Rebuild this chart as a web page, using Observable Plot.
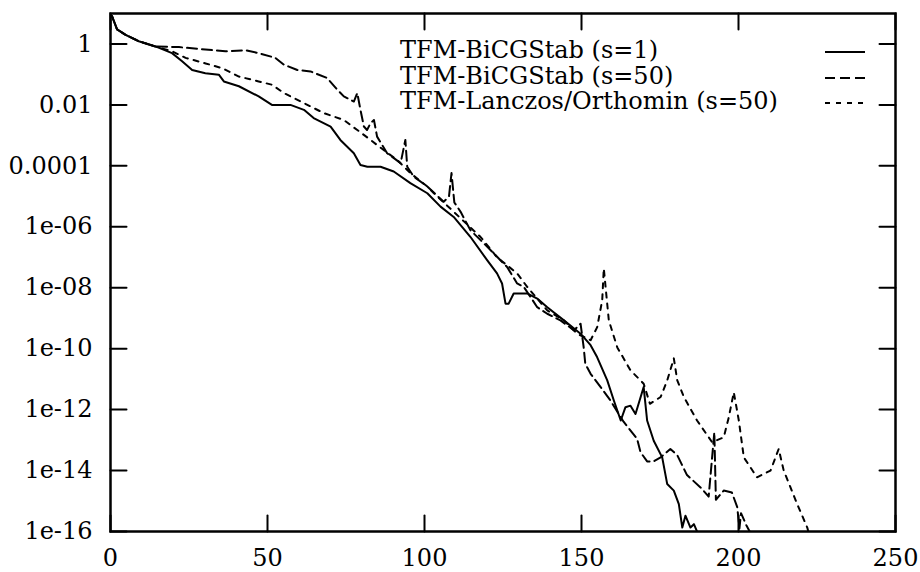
<!DOCTYPE html>
<html>
<head>
<meta charset="utf-8">
<script src="https://cdn.jsdelivr.net/npm/d3@7"></script>
<script src="https://cdn.jsdelivr.net/npm/@observablehq/plot@0.6"></script>
<style>
  html, body { margin: 0; padding: 0; background: #fff; }
  #wrap { position: relative; width: 920px; height: 572px; font-family: "DejaVu Serif", serif; }
  #legend { position: absolute; left: 400px; top: 38px; font-size: 24px; line-height: 25.5px; color: #000; }
  #legend .row { position: relative; height: 25.5px; white-space: nowrap; }
  #legend .row svg { position: absolute; left: 425px; top: 0; }
</style>
</head>
<body>
<div id="wrap"><div id="legend"></div></div>
<script>
// ---- data ----
const seriesNames = ["TFM-BiCGStab (s=1)", "TFM-BiCGStab (s=50)", "TFM-Lanczos/Orthomin (s=50)"];

const s1X = [0, 0.5, 2.1, 4.8, 9.0, 14.3, 19.6, 22.8, 26.0, 30.2, 34.5, 36.1, 40.9, 47.2, 51.4, 57.3, 61.6, 64.7, 70.1, 73.2, 77.5, 79.6, 81.8, 86.0, 90.2, 95.5, 100.9, 105.1, 109.3, 114.6, 120.0, 123.1, 124.7, 125.8, 126.8, 128.4, 132.7, 135.9, 139.1, 144.4, 149.7, 152.9, 155.0, 158.2, 160.3, 162.5, 164.0, 165.6, 167.2, 169.8, 170.9, 173.0, 175.7, 177.3, 179.4, 181.0, 182.1, 183.1, 184.7, 185.8, 186.8, 187.5];
const s1Y = [9, 8.1, 3.0, 2.0, 1.23, 0.83, 0.50, 0.27, 0.14, 0.11, 0.098, 0.059, 0.041, 0.019, 0.010, 0.010, 6.9e-3, 3.7e-3, 1.95e-3, 7.1e-4, 2.6e-4, 1.07e-4, 9.3e-5, 9.3e-5, 6.5e-5, 2.7e-5, 1.26e-5, 4.6e-6, 2.1e-6, 4.7e-7, 7.9e-8, 2.95e-8, 1.38e-8, 3.0e-9, 3.0e-9, 6.5e-9, 6.5e-9, 4.4e-9, 2.3e-9, 8.5e-10, 3.1e-10, 1.3e-10, 5.2e-11, 9.1e-12, 2.0e-12, 4.4e-13, 1.2e-12, 1.35e-12, 7.2e-13, 5.5e-12, 4.4e-13, 9.5e-14, 2.7e-14, 3.6e-15, 2.2e-15, 7.9e-16, 1.35e-16, 3.3e-16, 1.35e-16, 1.74e-16, 1.0e-16, 4e-17];

const s2X = [0, 0.5, 2.1, 4.8, 9.0, 14.3, 21.8, 28.1, 36.6, 43.0, 47.2, 52.5, 55.2, 59.5, 63.7, 69.0, 72.2, 74.3, 77.5, 78.6, 79.6, 80.7, 81.7, 82.8, 83.9, 84.9, 88.1, 92.4, 93.9, 94.5, 96.6, 100.9, 106.1, 107.8, 108.6, 109.5, 111.5, 114.6, 120.0, 126.3, 129.5, 131.6, 135.9, 139.1, 143.3, 147.6, 149.7, 150.7, 151.2, 152.9, 156.1, 159.2, 163.4, 167.7, 168.8, 170.9, 173.0, 175.2, 178.3, 180.5, 183.6, 187.9, 190.5, 192.3, 192.8, 195.3, 197.9, 199.6, 200.3, 200.8, 202.5, 203.8, 204.5];
const s2Y = [9, 8.1, 3.0, 2.0, 1.23, 0.83, 0.79, 0.69, 0.575, 0.62, 0.50, 0.35, 0.21, 0.14, 0.126, 0.076, 0.032, 0.019, 0.0129, 0.0245, 6.9e-3, 1.95e-3, 1.5e-3, 2.5e-3, 3.2e-3, 9.1e-4, 2.6e-4, 1.23e-4, 7.1e-4, 9.3e-5, 4.4e-5, 2.1e-5, 6.6e-6, 1.0e-5, 5.8e-5, 6.3e-6, 3.1e-6, 7.8e-7, 2.2e-7, 4.8e-8, 1.38e-8, 1.07e-8, 2.3e-9, 1.4e-9, 8.5e-10, 4.0e-10, 6.6e-10, 1.1e-10, 3.2e-11, 1.5e-11, 5.5e-12, 2.0e-12, 4.0e-13, 1.1e-13, 4.0e-14, 2.0e-14, 2.0e-14, 2.7e-14, 5.1e-14, 3.2e-14, 7.1e-15, 2.8e-15, 1.4e-15, 1.8e-13, 1.1e-15, 2.2e-15, 1.9e-15, 6.3e-16, 1.26e-16, 4.0e-16, 1.6e-16, 9e-17, 3e-17];

const s3X = [0, 0.5, 2.1, 4.8, 9.0, 14.3, 19.6, 23.9, 30.3, 35.6, 40.9, 47.2, 51.4, 55.2, 61.6, 67.9, 74.3, 78.6, 82.8, 87.0, 91.3, 95.5, 100.9, 103.0, 117.8, 123.1, 129.5, 132.7, 139.1, 144.4, 148.6, 152.9, 155.0, 156.6, 157.1, 158.7, 161.4, 165.6, 169.8, 171.8, 175.2, 177.3, 179.4, 180.5, 182.6, 186.8, 191.6, 195.3, 196.9, 198.5, 200.1, 201.7, 205.9, 210.2, 212.8, 214.4, 218.7, 221.9, 223.0];
const s3Y = [9, 8.1, 3.0, 2.0, 1.23, 0.83, 0.575, 0.35, 0.23, 0.16, 0.085, 0.059, 0.046, 0.0245, 0.0115, 5.4e-3, 3.2e-3, 1.5e-3, 7.1e-4, 3.3e-4, 1.55e-4, 5.8e-5, 2.1e-5, 1.26e-5, 4.7e-7, 1.0e-7, 2.95e-8, 1.07e-8, 1.8e-9, 8.5e-10, 3.1e-10, 1.9e-10, 5.1e-10, 3.9e-9, 4.3e-8, 8.5e-10, 1.1e-10, 1.95e-11, 7.1e-12, 1.55e-12, 2.6e-12, 9.1e-12, 4.8e-11, 9.1e-12, 2.6e-12, 4.4e-13, 8.5e-14, 1.23e-13, 5.6e-13, 3.7e-12, 4.4e-13, 2.7e-14, 6.0e-15, 1.0e-14, 5.1e-14, 1.0e-14, 7.9e-16, 1.35e-16, 5e-17];

const xTicks = [0, 50, 100, 150, 200, 250];
const yTicks = [1, 1e-2, 1e-4, 1e-6, 1e-8, 1e-10, 1e-12, 1e-14, 1e-16];
const yTickLabels = ["1", "0.01", "0.0001", "1e-06", "1e-08", "1e-10", "1e-12", "1e-14", "1e-16"];
const xDomain = [0, 250];
const yDomain = [1e-16, 10];

const dashes = [null, "10,5", "5,6"];

// ---- build table ----
const table = [];
[[s1X, s1Y], [s2X, s2Y], [s3X, s3Y]].forEach(([xs, ys], k) => {
  xs.forEach((x, i) => table.push({series: seriesNames[k], x, y: ys[i]}));
});

const fmtY = d => yTickLabels[yTicks.findIndex(t => Math.abs(Math.log10(t) - Math.log10(d)) < 1e-6)];

// layout
const W = 920, H = 572, mL = 110, mR = 25, mT = 13, mB = 41;
const T = 16; // inward tick length (px)
const frameW = W - mL - mR, frameH = H - mT - mB;

// inward, mirrored tick segments expressed through the scales (length T px converted to data units)
const dxU = T / frameW * (xDomain[1] - xDomain[0]);
const dyF = Math.pow(10, T / frameH * (Math.log10(yDomain[1]) - Math.log10(yDomain[0])));
const tickSegs = [];
xTicks.forEach((t, i) => {
  tickSegs.push({id: "b" + i, x: t, y: yDomain[0]}, {id: "b" + i, x: t, y: yDomain[0] * dyF});
  tickSegs.push({id: "t" + i, x: t, y: yDomain[1]}, {id: "t" + i, x: t, y: yDomain[1] / dyF});
});
yTicks.forEach((t, i) => {
  tickSegs.push({id: "l" + i, x: xDomain[0], y: t}, {id: "l" + i, x: xDomain[0] + dxU, y: t});
  tickSegs.push({id: "r" + i, x: xDomain[1], y: t}, {id: "r" + i, x: xDomain[1] - dxU, y: t});
});

const chart = Plot.plot({
  width: W, height: H,
  marginLeft: mL, marginRight: mR, marginTop: mT, marginBottom: mB,
  x: {domain: xDomain},
  y: {type: "log", domain: yDomain},
  style: {fontFamily: "DejaVu Serif", background: "white", color: "black"},
  marks: [
    Plot.axisX({ticks: xTicks, tickSize: 0, tickPadding: 17, fontSize: 24, label: null, tickFormat: d => String(d)}),
    Plot.axisY({ticks: yTicks, tickSize: 0, tickPadding: 18, fontSize: 24, label: null, tickFormat: fmtY}),
    ...seriesNames.map((name, k) => Plot.line(table.filter(d => d.series === name), {
      x: "x", y: "y", stroke: "black", strokeWidth: 2, strokeDasharray: dashes[k], clip: true
    })),
    Plot.line(tickSegs, {x: "x", y: "y", z: "id", stroke: "black", strokeWidth: 2}),
    Plot.frame({stroke: "black", strokeWidth: 2.5})
  ]
});

const wrap = document.getElementById("wrap");
wrap.insertBefore(chart, wrap.firstChild);

// ---- legend ----
const legend = d3.select("#legend");
seriesNames.forEach((name, k) => {
  const row = legend.append("div").attr("class", "row");
  row.append("span").text(name);
  const svg = row.append("svg").attr("width", 40).attr("height", 26);
  svg.append("line").attr("x1", 0).attr("x2", 40).attr("y1", 14).attr("y2", 14)
    .attr("stroke", "black").attr("stroke-width", 2)
    .attr("stroke-dasharray", dashes[k]);
});
</script>
</body>
</html>
